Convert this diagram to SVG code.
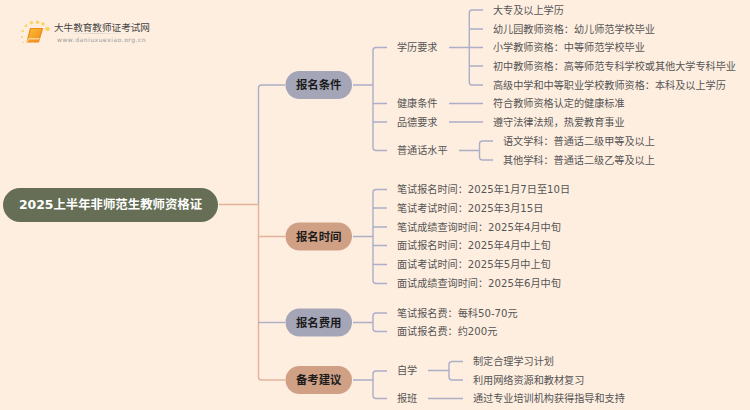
<svg xmlns="http://www.w3.org/2000/svg" width="750" height="410" viewBox="0 0 750 410">
<defs>
<linearGradient id="book" x1="0" y1="0" x2="1" y2="1"><stop offset="0" stop-color="#fbbf3a"/><stop offset="1" stop-color="#f08a14"/></linearGradient>
<linearGradient id="rule" x1="0" y1="0" x2="1" y2="0"><stop offset="0" stop-color="#ddd" stop-opacity="0"/><stop offset=".5" stop-color="#d8d4cf"/><stop offset="1" stop-color="#ddd" stop-opacity="0"/></linearGradient>
</defs>
<style>
text{font-family:"DejaVu Sans","Noto Sans CJK SC",sans-serif;dominant-baseline:central}
.t{font-size:10.150px;fill:#555}
.n{font-size:11.400px;font-weight:700;fill:#1c1c1c;text-anchor:middle}
.r{font-size:12.400px;font-weight:700;fill:#fff;text-anchor:middle}
.b,.s{fill:none;stroke-width:1.400;stroke-linejoin:round}
.b{stroke:#acaec8}
.s{stroke:#e3b298}
.nb{fill:#a5a5b8}
.ns{fill:#d0a085}
</style>
<rect width="750" height="410" fill="#feeee0"/>
<g id="logo">
<g fill="#fbd35e">
<circle cx="47.500" cy="29" r="2.200"/><circle cx="43" cy="24" r="1.800"/><circle cx="37.500" cy="22.300" r="1.800"/><circle cx="31.500" cy="22.800" r="1.700"/><circle cx="26" cy="25.800" r="1.400"/><circle cx="22.800" cy="31" r="1.200"/><circle cx="22" cy="37" r="1"/><circle cx="23.300" cy="42.500" r="0.800"/>
</g>
<path d="M30.500 28.500H42.500L38.500 41.800H27Z" fill="url(#book)" stroke="#ee8a1a" stroke-width="1.200" stroke-linejoin="round"/>
<path d="M27.500 41.500C27 40 28 38.800 29.500 38.800H39.500" fill="none" stroke="#fff3d8" stroke-width="1"/>
<rect x="62" y="33" width="68" height="1" fill="url(#rule)"/>
<text x="54" y="27" style="font-size:9.600px;fill:#444">大牛教育教师证考试网</text>
<text x="57" y="39" style="font-size:6px;fill:#999;letter-spacing:0.530px">www.daniuxuexiao.org.cn</text>
</g>
<g id="connectors">
<path class="s" d="M219 204.500H258.500"/>
<path class="b" d="M258.500 204.500V88Q258.500 85 261.500 85H285"/>
<path class="s" d="M258.500 204.500V377Q258.500 380 261.500 380H285M258.500 236.500H285"/>
<path class="b" d="M258.500 322.500H285"/>
<path class="b" d="M353 85H373M387 47.500H376Q373 47.500 373 50.500V147.500Q373 150.500 376 150.500H387M373 103.500H387M373 122H387"/>
<path class="b" d="M449 47.500H483M483 10H472Q469.300 10 469.300 13V82Q469.300 85 472 85H483M469.300 29H483M469.300 66H483"/>
<path class="b" d="M449 103.500H483M449 122H483"/>
<path class="b" d="M459 150.500H479.500M493 141H482.500Q479.500 141 479.500 144V157Q479.500 160 482.500 160H493"/>
<path class="b" d="M353 236.500H373M387 189.500H376Q373 189.500 373 192.500V280.500Q373 283.500 376 283.500H387M373 208H387M373 227H387M373 245.500H387M373 264.500H387"/>
<path class="b" d="M353 322.500H373M387 313H376Q373 313 373 316V328.500Q373 331.500 376 331.500H387"/>
<path class="b" d="M353 380H373M387 371H376Q373 371 373 374V395.500Q373 398.500 376 398.500H387"/>
<path class="b" d="M428 370.500H449M463 361.500H452Q449 361.500 449 364.500V377Q449 380 452 380H463M428 398.500H463"/>
</g>
<g id="root"><rect x="3" y="188" width="215" height="34" rx="17" fill="#666e55"/><text class="r" x="110.500" y="204.500">2025上半年非师范生教师资格证</text></g>
<g id="n1"><rect class="nb" x="285.500" y="71" width="66.500" height="28" rx="14"/><text class="n" x="318.700" y="85">报名条件</text></g>
<g id="n2"><rect class="ns" x="285.500" y="222.500" width="66.500" height="28" rx="14"/><text class="n" x="318.700" y="236.500">报名时间</text></g>
<g id="n3"><rect class="nb" x="285.500" y="308.500" width="66.500" height="28" rx="14"/><text class="n" x="318.700" y="322.500">报名费用</text></g>
<g id="n4"><rect class="ns" x="285.500" y="366" width="66.500" height="28" rx="14"/><text class="n" x="318.700" y="380">备考建议</text></g>
<g id="l1a"><text class="t" x="397" y="47.500">学历要求</text></g>
<g id="l1b"><text class="t" x="397" y="103.500">健康条件</text></g>
<g id="l1c"><text class="t" x="397" y="122">品德要求</text></g>
<g id="l1d"><text class="t" x="397" y="150.500">普通话水平</text></g>
<g id="l1a1"><text class="t" x="493" y="10">大专及以上学历</text></g>
<g id="l1a2"><text class="t" x="493" y="29">幼儿园教师资格：幼儿师范学校毕业</text></g>
<g id="l1a3"><text class="t" x="493" y="47.500">小学教师资格：中等师范学校毕业</text></g>
<g id="l1a4"><text class="t" x="493" y="66">初中教师资格：高等师范专科学校或其他大学专科毕业</text></g>
<g id="l1a5"><text class="t" x="493" y="85">高级中学和中等职业学校教师资格：本科及以上学历</text></g>
<g id="l1b1"><text class="t" x="493" y="103.500">符合教师资格认定的健康标准</text></g>
<g id="l1c1"><text class="t" x="493" y="122">遵守法律法规，热爱教育事业</text></g>
<g id="l1d1"><text class="t" x="503" y="141">语文学科：普通话二级甲等及以上</text></g>
<g id="l1d2"><text class="t" x="503" y="160">其他学科：普通话二级乙等及以上</text></g>
<g id="l2a"><text class="t" x="397" y="189.500">笔试报名时间：2025年1月7日至10日</text></g>
<g id="l2b"><text class="t" x="397" y="208">笔试考试时间：2025年3月15日</text></g>
<g id="l2c"><text class="t" x="397" y="227">笔试成绩查询时间：2025年4月中旬</text></g>
<g id="l2d"><text class="t" x="397" y="245.500">面试报名时间：2025年4月中上旬</text></g>
<g id="l2e"><text class="t" x="397" y="264.500">面试考试时间：2025年5月中上旬</text></g>
<g id="l2f"><text class="t" x="397" y="283">面试成绩查询时间：2025年6月中旬</text></g>
<g id="l3a"><text class="t" x="397" y="313">笔试报名费：每科50-70元</text></g>
<g id="l3b"><text class="t" x="397" y="331.500">面试报名费：约200元</text></g>
<g id="l4a"><text class="t" x="397" y="370.500">自学</text></g>
<g id="l4b"><text class="t" x="397" y="398.500">报班</text></g>
<g id="l4a1"><text class="t" x="473" y="361.500">制定合理学习计划</text></g>
<g id="l4a2"><text class="t" x="473" y="380">利用网络资源和教材复习</text></g>
<g id="l4b1"><text class="t" x="473" y="398.500">通过专业培训机构获得指导和支持</text></g>
</svg>
